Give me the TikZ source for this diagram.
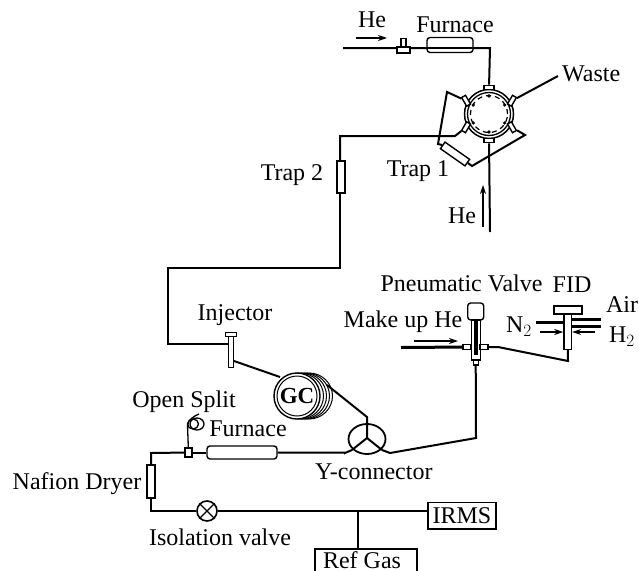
\documentclass[tikz,border=0pt]{standalone}
\usepackage{fontspec}
\setmainfont{Liberation Serif}
\usetikzlibrary{positioning,arrows.meta,calc,shapes.geometric}
\begin{document}
\begin{tikzpicture}[
  x=1pt, y=-1pt,
  lbl/.style={font=\fontsize{24}{26}\selectfont, inner sep=0pt},
  pipe/.style={line width=2pt},
  part/.style={draw, line width=1.4pt, fill=white, inner sep=0pt},
  port/.style={part, minimum width=10pt, minimum height=4.5pt},
  flow/.style={-{Stealth[length=9pt,width=6pt]}, line width=1.2pt},
  >=Stealth
]
\useasboundingbox (0,0) rectangle (639,570);
% ---- Six port valve at the top ----
\node[circle, draw, line width=1.5pt, minimum size=49pt, inner sep=0pt] (valve) at (489,114) {};
\node[circle, draw, line width=1.3pt, minimum size=43pt, inner sep=0pt] at (489,114) {};
\node[circle, draw, dash pattern=on 5pt off 4pt, line width=1.2pt, minimum size=37pt, inner sep=0pt] at (489,114) {};
\foreach \i/\ang in {1/90,2/150,3/210,4/270,5/330,6/30}{
  \node[port, rotate=90-\ang] (P\i) at ($(489,114)+(\ang:26.5 and -26.5)$) {};
  \fill ($(489,114)+(\ang:18 and -18)$) circle (1.8pt);
}
% ---- Furnace line into the valve ----
\coordinate (heA) at (343,48);
\coordinate (bendA) at (490,48);
\draw[pipe] (heA) -- (bendA) -- (P1);
\node[part, minimum width=5pt, minimum height=9pt] (tee) at (403.5,43) {};
\node[part, minimum width=13pt, minimum height=6pt] (teeb) at (403.5,50) {};
\node[part, rounded corners=3pt, minimum width=46pt, minimum height=15pt] (furnA) at (450,45) {};
\draw[pipe] (furnA.west |- heA) -- (furnA.east |- heA);
\coordinate (arrA) at (356,38); \coordinate (arrB) at (387,38);
\draw[flow] (arrA) -- (arrB);
\node[lbl] (he1) at (372,20) {He};
\node[lbl] (furnAl) at (455,25) {Furnace};
% ---- Waste and sample loop ----
\coordinate (wasteE) at (558,76);
\draw[pipe] (P6) -- (wasteE);
\node[lbl, anchor=west] (waste) at (562,74) {Waste};
\node[part, rotate=-35, minimum width=30pt, minimum height=8pt] (trapA) at (455,154) {};
\coordinate (loopA) at (447,92); \coordinate (loopB) at (438,144);
\coordinate (loopC) at (472,166); \coordinate (loopD) at (525,135);
\draw[pipe] (P2) -- (loopA) -- (loopB) -- (trapA.west);
\draw[pipe] (trapA.east) -- (loopC) -- (loopD) -- (P5);
\node[lbl] (trapAl) at (418,171) {Trap 1};
% ---- Helium from below ----
\coordinate (heB) at (490,232);
\draw[pipe] (heB) -- (P4);
\coordinate (arrC) at (483,227); \coordinate (arrD) at (483,185);
\draw[flow] (arrC) -- (arrD);
\node[lbl] (he2) at (462,216) {He};
% ---- Transfer line to injector ----
\coordinate (bendB) at (455,136); \coordinate (bendC) at (340,136);
\coordinate (bendD) at (340,268); \coordinate (bendE) at (168,268);
\coordinate (bendF) at (168,344);
\node[part, minimum width=8pt, minimum height=32pt] (trapB) at (341,177) {};
\draw[pipe] (P3) -- (bendB) -- (bendC) -- (bendC |- trapB.north);
\draw[pipe] (bendC |- trapB.south) -- (bendD) -- (bendE) -- (bendF) -- (228,344);
\node[lbl] (trapBl) at (292,175) {Trap 2};
\node[part, minimum width=11pt, minimum height=4.5pt] (inja) at (231,334.5) {};
\node[part, minimum width=5.5pt, minimum height=30.5pt] (injb) at (231,352) {};
\node[lbl] (inj) at (235,315) {Injector};
% ---- GC ----
\foreach \s in {12,9,6,3}{
  \draw[line width=1pt, fill=white] (297+\s,396) ellipse (23.5 and 23);
}
\node[circle, draw, line width=1.4pt, fill=white, minimum size=46pt, inner sep=0pt] (gcout) at (297,396) {};
\node[circle, draw, line width=1pt, minimum size=40pt, inner sep=0pt, font=\fontsize{23}{25}\selectfont\bfseries] (gc) at (297,396) {GC};
\coordinate (gcA) at (280,377); \coordinate (gcB) at (327,385); \coordinate (injC) at (234,361);
\draw[pipe] (injC) -- (gcA);
% ---- Y connector ----
\node[draw, ellipse, line width=1.8pt, minimum width=37pt, minimum height=30pt, inner sep=0pt] (yc) at (367,439) {};
\coordinate (ycT) at (367,424); \coordinate (ycL) at (352,450); \coordinate (ycR) at (382,450);
\coordinate (ycO) at (367,438);
\draw[pipe] (ycO) -- (ycT) (ycO) -- (ycL) (ycO) -- (ycR);
\coordinate (ycA) at (367,417);
\draw[pipe] (gcB) -- (ycA) -- (ycT);
\node[lbl, anchor=west] (ycl) at (315,472) {Y-connector};
% ---- Pneumatic valve ----
\node[part, rounded corners=3pt, minimum width=16pt, minimum height=17pt] (pvcap) at (475.7,311.5) {};
\node[part, minimum width=9pt, minimum height=40pt] (pvbody) at (475.7,340) {};
\fill (473.8,320) rectangle (477.6,355);
\node[part, minimum width=8pt, minimum height=4.5pt] (pvl) at (467,347) {};
\node[part, minimum width=8pt, minimum height=4.5pt] (pvr) at (484,347) {};
\node[part, minimum width=5pt, minimum height=5pt] (pvb) at (475.7,362.5) {};
\coordinate (muA) at (401,347.5); \coordinate (muB) at (498,347);
\coordinate (muC) at (568,361); \coordinate (muD) at (476,438); \coordinate (muE) at (390,453);
\draw[line width=3pt] (muA) -- (pvl);
\coordinate (arrE) at (414,341); \coordinate (arrF) at (458,341);
\draw[flow] (arrE) -- (arrF);
\draw[pipe] (ycR) -- (muE) -- (muD) -- (pvb);
\node[lbl] (pvl2) at (461.5,283) {Pneumatic Valve};
\node[lbl] (mul) at (403,322) {Make up He};
% ---- FID ----
\node[part, minimum width=28pt, minimum height=8pt] (fidcap) at (568,310) {};
\node[part, minimum width=7.5pt, minimum height=35pt] (fidb) at (567.7,332) {};
\draw[pipe] (pvr) -- (muB) -- (muC) -- (fidb);
\coordinate (nA) at (536,322.5); \coordinate (airE) at (600.7,319.3); \coordinate (hE) at (600.7,326.7);
\draw[line width=2.4pt] (nA) -- (fidb.west |- nA);
\draw[line width=2.8pt] (fidb.east |- airE) -- (airE);
\draw[line width=2.8pt] (fidb.east |- hE) -- (hE);
\coordinate (arrG) at (540,332); \coordinate (arrH) at (595,332);
\draw[flow] (arrG) -- (fidb.west |- arrG);
\draw[flow] (arrH) -- (fidb.east |- arrH);
\node[lbl] (fidl) at (572,285) {FID};
\node[lbl] (airl) at (622,305) {Air};
\node[lbl] (hl) at (622,337) {H$_2$};
\node[lbl] (nl) at (519,327) {N$_2$};
% ---- Furnace and open split ----
\node[part, rounded corners=3pt, minimum width=70pt, minimum height=13pt] (furnB) at (242,452.5) {};
\node[part, minimum width=7pt, minimum height=9pt] (split) at (188.5,452.5) {};
\coordinate (osA) at (187.5,425); \coordinate (osB) at (199,414); \coordinate (bendG) at (151,453); \coordinate (bendH) at (151,511);
\coordinate (ycM) at (345,453);
\node[part, minimum width=8pt, minimum height=33pt] (naf) at (151,481.5) {};
\draw[pipe] (furnB) -- (split);
\draw[pipe] (split) -- (bendG) -- (naf.north);
\draw[pipe] (furnB) -- (furnB -| ycM) -- (ycM) -- (ycL);
\draw[line width=1.3pt] (split) -- (osA) .. controls (188,420) and (194,416) .. (osB);
\draw[line width=1.3pt] (197,424) ellipse (7 and 6);
\draw[line width=1.3pt] (193,424) ellipse (5.5 and 5);
\node[lbl] (osl) at (184,402) {Open Split};
\node[lbl] (furnBl) at (248,429) {Furnace};
\node[lbl] (nafl) at (77,484) {Nafion Dryer};
% ---- Isolation valve, IRMS, reference gas ----
\node[circle, draw, line width=1.6pt, minimum size=20pt, inner sep=0pt] (iso) at (207,511) {};
\draw[line width=1.3pt] (iso.45) -- (iso.225) (iso.135) -- (iso.315);
\node[draw, line width=1.5pt, minimum width=68pt, minimum height=26.7pt, inner sep=0pt, font=\fontsize{24}{26}\selectfont] (irms) at (462,515.7) {IRMS};
\node[draw, line width=1.5pt, minimum width=102pt, minimum height=24pt, inner sep=0pt, anchor=north west] (ref) at (314,548) {};
\node[lbl] (refl) at (362,560) {Ref Gas};
\draw[pipe] (naf.south) -- (bendH) -- (iso);
\coordinate (irmsW) at (irms.west |- iso);
\draw[pipe] (iso) -- (irmsW);
\coordinate (tap) at (358,511);
\draw[pipe] (tap) -- (tap |- ref.north);
\node[lbl] (isol) at (220,537) {Isolation valve};
\end{tikzpicture}
\end{document}
